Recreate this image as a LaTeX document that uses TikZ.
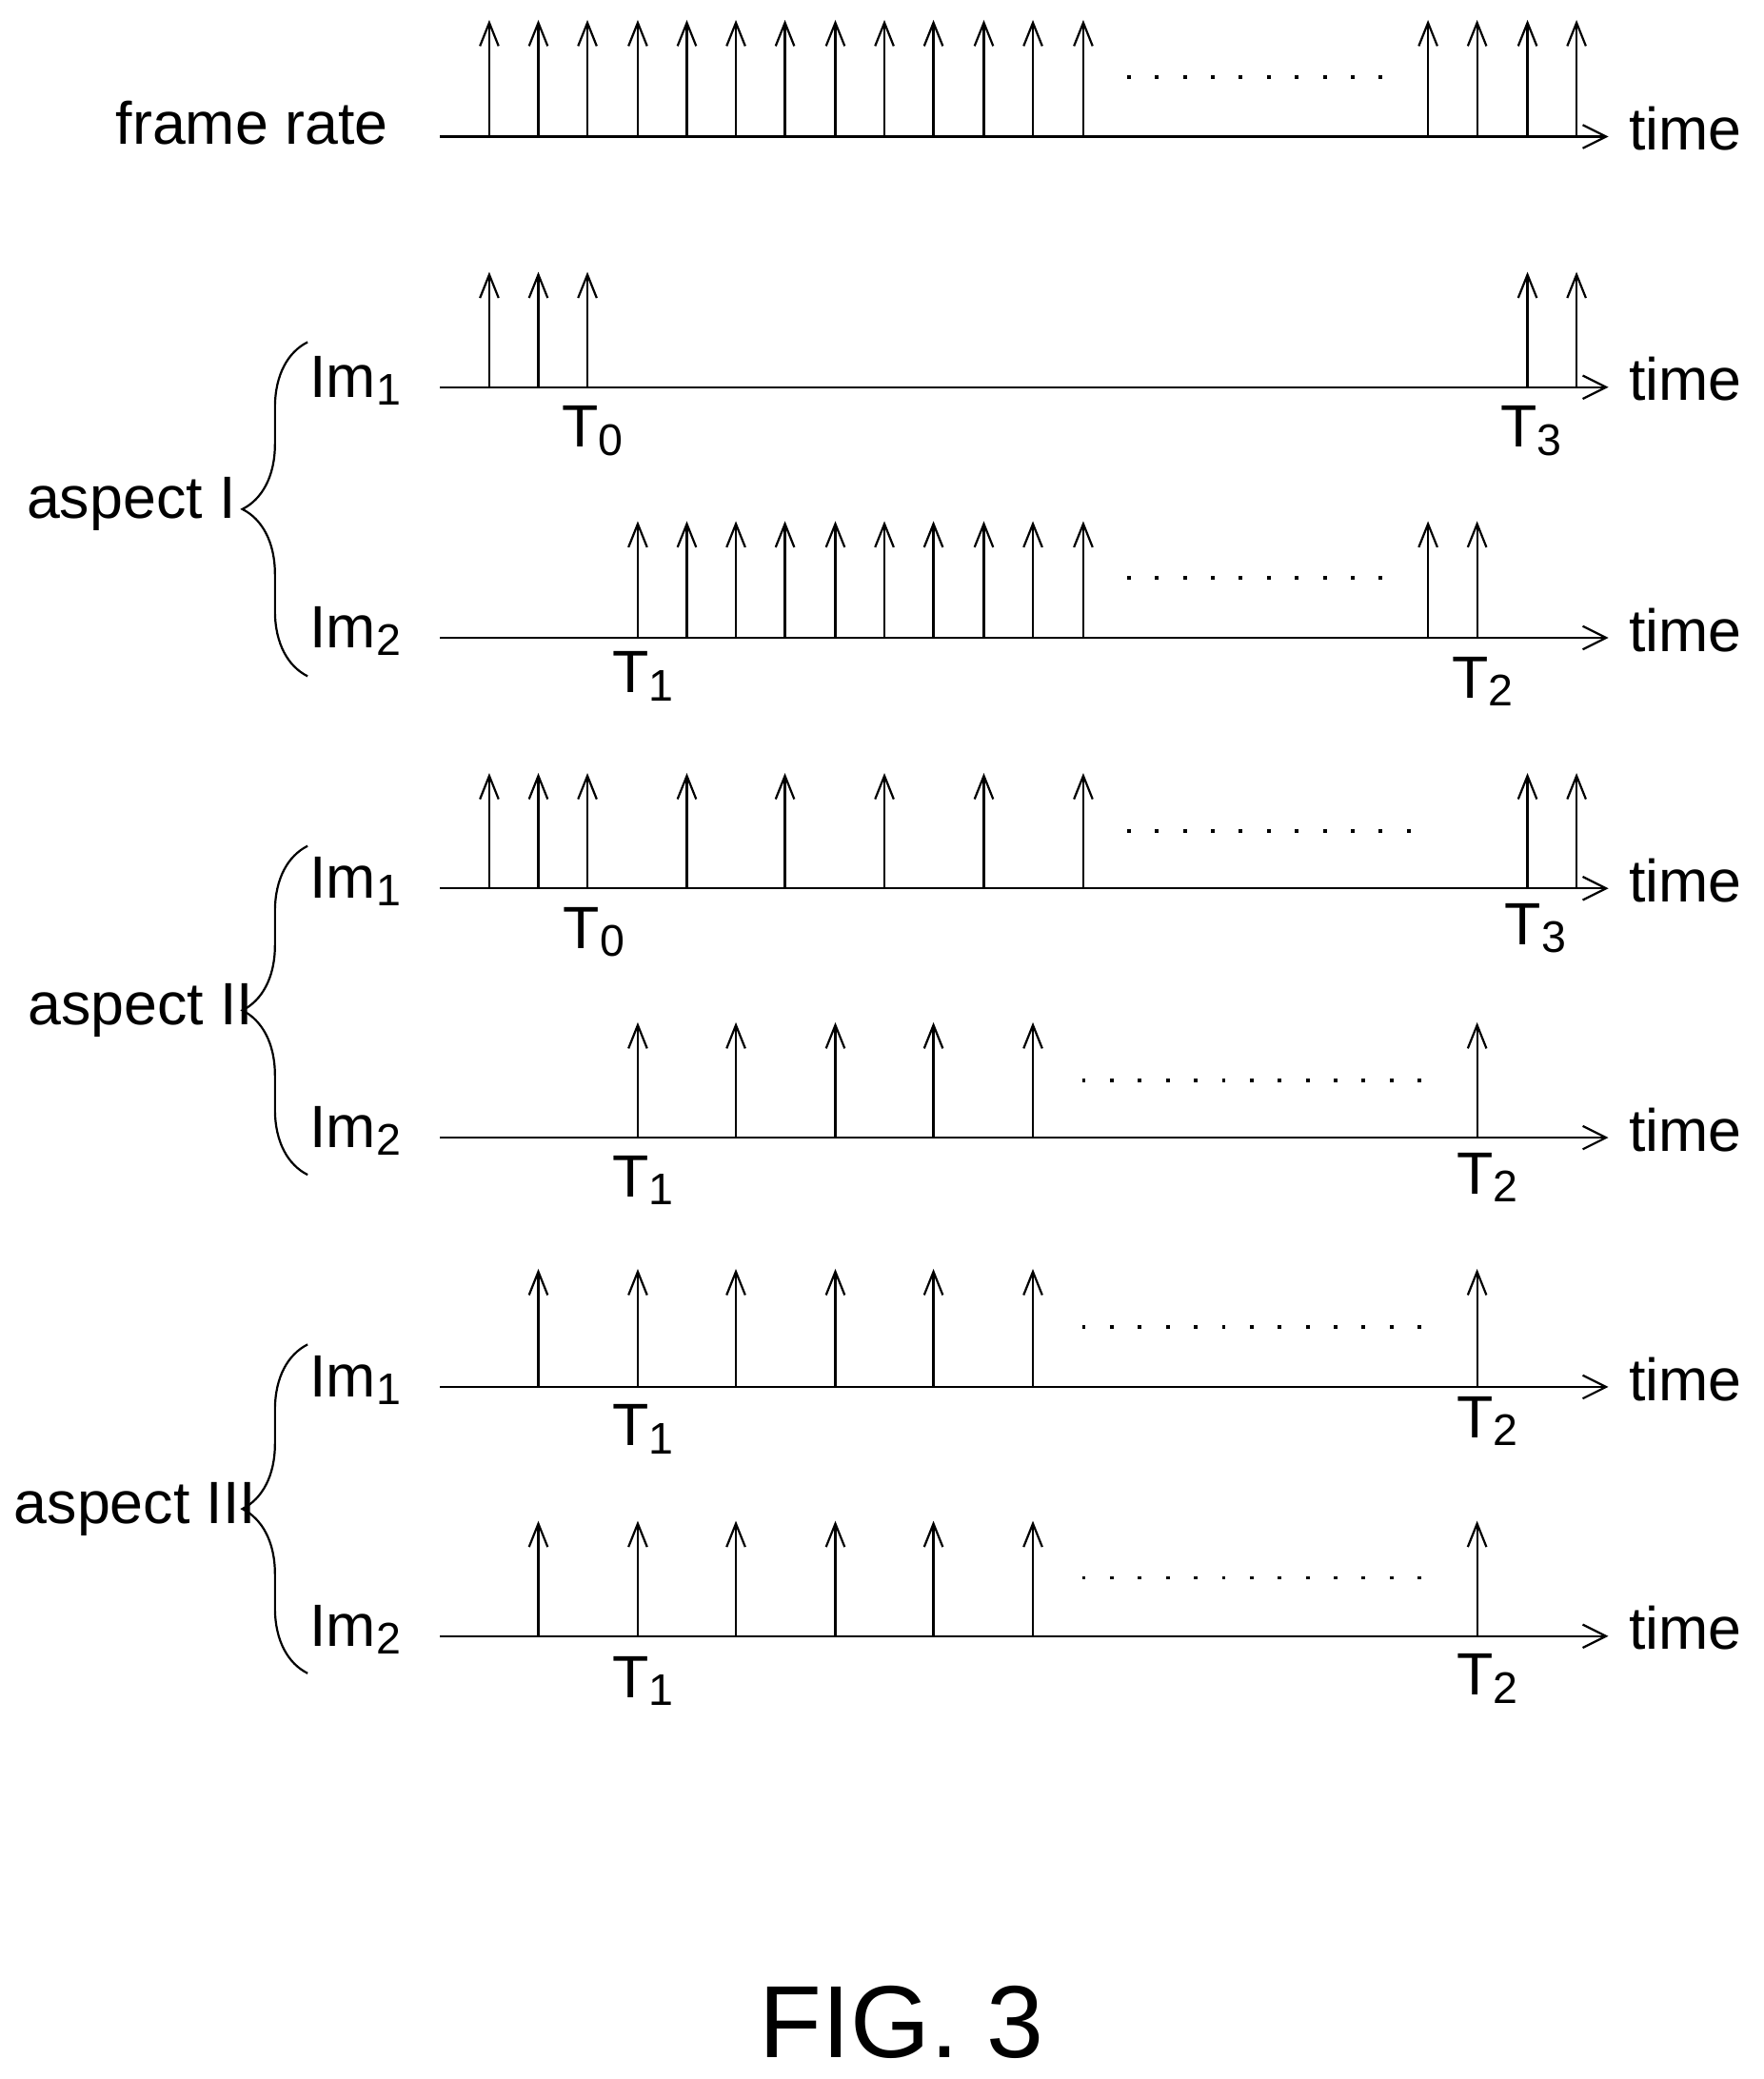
\documentclass[tikz,border=0pt]{standalone}
\usepackage{fontspec}
\setmainfont{Liberation Sans}
\usetikzlibrary{arrows.meta,decorations.pathreplacing}
\begin{document}
\begin{tikzpicture}[x=0.01cm,y=-0.01cm,
  ln/.style={line width=0.45pt},
  ax/.style={ln,-{Straight Barb[length=5pt,width=5pt]}},
  up/.style={ln,-{Straight Barb[length=5pt,width=4pt]}},
  dt/.style={line width=0.8pt,dash pattern=on 0.8pt off 5.2pt},
  lb/.style={font=\fontsize{12.8pt}{14pt}\selectfont,inner sep=0pt},
  br/.style={ln,decorate,decoration={brace,amplitude=14pt,mirror}}]
\useasboundingbox (0,0) rectangle (1330,1568);
\newcommand{\sub}[1]{\raisebox{-0.25ex}{\fontsize{9.5pt}{10pt}\selectfont #1}}
\def\row#1#2#3#4{%
  \coordinate (#1s) at (332,#2); \coordinate (#1e) at (1213,#2);
  \draw[ax] (#1s) -- (#1e);
  \node[lb,anchor=west] (#1t) at (1228,#2-6) {time};
  \foreach \x in {#4} {\draw[up] (\x,#2) -- (\x,#3);}
}
\row{a}{103}{15}{369,406,443,481,518,555,592,630,667,704,742,779,817,1077,1114,1152,1189}
\draw[dt] (850,58) -- (1047,58);
\node[lb] (fr) at (190,93) {frame rate};
% aspect I
\row{b}{292}{205}{369,406,443,1152,1189}
\row{c}{481}{393}{481,518,555,592,630,667,704,742,779,817,1077,1114}
\draw[dt] (850,436) -- (1047,436);
% aspect II
\row{d}{670}{583}{369,406,443,518,592,667,742,817,1152,1189}
\draw[dt] (850,627) -- (1080,627);
\row{e}{858}{771}{481,555,630,704,779,1114}
\draw[dt] (816,815) -- (1080,815);
% aspect III
\row{f}{1046}{957}{406,481,555,630,704,779,1114}
\draw[dt] (816,1001) -- (1080,1001);
\row{g}{1234}{1147}{406,481,555,630,704,779,1114}
\draw[dt] (816,1190) -- (1080,1190);
\foreach \n/\y/\k in {b/292/1,c/481/2,d/670/1,e/858/2,f/1046/1,g/1234/2}
  \node[lb] (im\n) at (268,\y-5) {Im\sub{\k}};
\node[lb] (t0a) at (447,325) {T\sub{0}};
\node[lb] (t3a) at (1155,325) {T\sub{3}};
\node[lb] (t1a) at (485,510) {T\sub{1}};
\node[lb] (t2a) at (1118,514) {T\sub{2}};
\node[lb] (t0b) at (448,703) {T\sub{0}};
\node[lb] (t3b) at (1158,700) {T\sub{3}};
\node[lb] (t1b) at (485,890) {T\sub{1}};
\node[lb] (t2b) at (1122,888) {T\sub{2}};
\node[lb] (t1c) at (485,1078) {T\sub{1}};
\node[lb] (t2c) at (1122,1072) {T\sub{2}};
\node[lb] (t1d) at (485,1268) {T\sub{1}};
\node[lb] (t2d) at (1122,1266) {T\sub{2}};
\coordinate (b1a) at (232,510); \coordinate (b1b) at (232,258);
\coordinate (b2a) at (232,886); \coordinate (b2b) at (232,638);
\coordinate (b3a) at (232,1262); \coordinate (b3b) at (232,1014);
\draw[br] (b1b) -- (b1a);
\draw[br] (b2b) -- (b2a);
\draw[br] (b3b) -- (b3a);
\node[lb] (as1) at (99,380) {aspect I};
\node[lb] (as2) at (106,762) {aspect II};
\node[lb] (as3) at (102,1138) {aspect III};
\node[font=\fontsize{22pt}{26pt}\selectfont,inner sep=0pt] (fig) at (680,1525) {FIG. 3};
\end{tikzpicture}
\end{document}
